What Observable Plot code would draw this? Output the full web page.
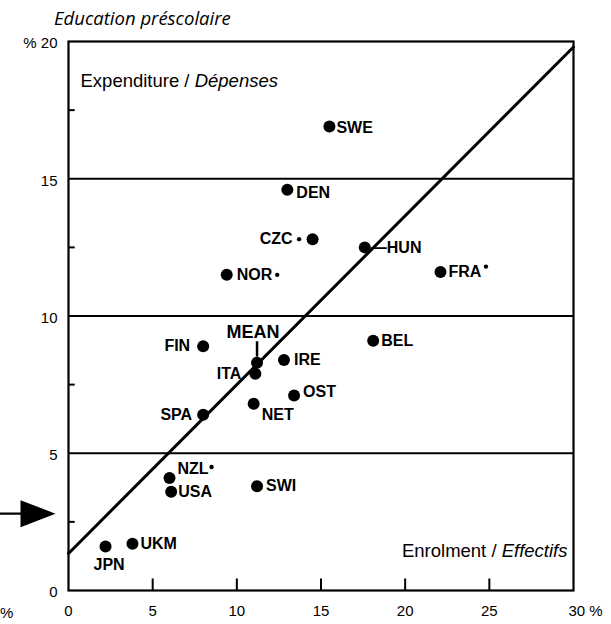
<!DOCTYPE html>
<html><head><meta charset="utf-8">
<script src="https://cdn.jsdelivr.net/npm/d3@7"></script>
<script src="https://cdn.jsdelivr.net/npm/@observablehq/plot@0.6"></script>
<style>
html,body{margin:0;padding:0;background:#fff}
body{width:611px;height:624px;overflow:hidden;position:relative;font-family:"Liberation Sans",Arial,sans-serif;color:#000}
#title{position:absolute;left:54px;top:5px;font-family:"Open Sans";font-style:italic;font-size:18.5px;white-space:nowrap}
#chart{position:absolute;left:0;top:30px}
#pct{position:absolute;left:0;top:604px;font-size:15px}
</style></head><body>
<div id="title">Education préscolaire</div>
<div id="chart"></div>
<div id="pct">%</div>
<script>
// ---- data ----
const countries   = ["SWE","DEN","CZC","HUN","FRA","NOR","BEL","FIN","ITA","IRE","OST","NET","SPA","NZL","USA","SWI","UKM","JPN"];
const enrolment   = [15.5, 13.0, 14.5, 17.6, 22.1, 9.4, 18.1, 8.0, 11.1, 12.8, 13.4, 11.0, 8.0, 6.0, 6.1, 11.2, 3.8, 2.2];
const expenditure = [16.9, 14.6, 12.8, 12.5, 11.6, 11.5, 9.1, 8.9, 7.9, 8.4, 7.1, 6.8, 6.4, 4.1, 3.6, 3.8, 1.7, 1.6];
const meanLabel = "MEAN";
const meanEnrolment = 11.2;
const meanExpenditure = 8.3;
const smallEnrolment   = [13.7, 12.4, 24.8, 8.5];
const smallExpenditure = [12.8, 11.5, 11.8, 4.5];
const trendEnrolment   = [0, 30];
const trendExpenditure = [1.35, 19.8];
const gridY = [5, 10, 15];
const xTickValues = [0, 5, 10, 15, 20, 25];
const xLastTick = [30];
const yTickValues = [0, 5, 10, 15, 20];
const xInnerTicks = [5, 10, 15, 20, 25];
const yInnerTicks = [2.5, 7.5, 12.5, 17.5];
const arrowLevel = [2.8];
const yAxisLabel = "Expenditure / Dépenses";
const xAxisLabel = "Enrolment / Effectifs";

// ---- label placement (style) ----
const place = {
  SWE:["start",7,1], DEN:["start",9,3], CZC:["end",-20,0], HUN:["start",6,0],
  FRA:["start",8,0], NOR:["start",10,0], BEL:["start",8,0], FIN:["end",-13,0],
  ITA:["end",-14,0], IRE:["start",10,0], OST:["start",9,-4], NET:["start",8,11],
  SPA:["end",-11,0], NZL:["start",8,-9], USA:["start",7,0], SWI:["start",9,0],
  UKM:["start",8,0], JPN:["start",-12,18]
};

const points = countries.map((c,i)=>({name:c, x:enrolment[i], y:expenditure[i]}));
const mean = [{name:meanLabel, x:meanEnrolment, y:meanExpenditure}];
const small = smallEnrolment.map((x,i)=>({x, y:smallExpenditure[i]}));
const trend = trendEnrolment.map((x,i)=>({x, y:trendExpenditure[i]}));

const arrowSymbol = {
  draw(ctx){
    ctx.moveTo(-12,-13.5); ctx.lineTo(23,0); ctx.lineTo(-12,13.5); ctx.closePath();
    ctx.moveTo(-50,-1.2); ctx.lineTo(-12,-1.2); ctx.lineTo(-12,1.2); ctx.lineTo(-50,1.2); ctx.closePath();
  }
};

const labelFont = {fontFamily:"Liberation Sans", fontWeight:"bold", fontSize:16, fill:"black"};

const labelMarks = points.map(p=>{
  const [a,dx,dy] = place[p.name];
  return Plot.text([p], {x:"x", y:"y", text: d => d.name === "HUN" ? "\u2014HUN" : d.name,
    textAnchor:a, dx, dy, ...labelFont, style:"letter-spacing:-0.6px"});
});

const chart = Plot.plot({
  width: 611, height: 594,
  marginTop: 11, marginBottom: 34, marginLeft: 68, marginRight: 38,
  x: {domain:[0,30], axis:null},
  y: {domain:[0,20], axis:null},
  style: {fontFamily:"Liberation Sans", fontSize:"15px", color:"black", background:"white", overflow:"visible"},
  marks: [
    Plot.ruleY(gridY, {strokeWidth:2, stroke:"black"}),
    Plot.ruleX(xInnerTicks, {x: d=>d, y1:0, y2:0.42, strokeWidth:2, stroke:"black"}),
    Plot.ruleY(yInnerTicks, {y: d=>d, x1:0, x2:0.4, strokeWidth:2, stroke:"black"}),
    Plot.frame({stroke:"black", strokeWidth:2.2}),
    Plot.line(trend, {x:"x", y:"y", stroke:"black", strokeWidth:3}),
    Plot.text(xTickValues, {x:d=>d, frameAnchor:"bottom", dy:25, text:d=>String(d), fontSize:15, fill:"black"}),
    Plot.text(xLastTick, {x:d=>d, frameAnchor:"bottom", dy:25, dx:-5, textAnchor:"start", text:d=>d+" %", fontSize:15, fill:"black"}),
    Plot.text(yTickValues, {y:d=>d, frameAnchor:"left", dx:-11, dy:2, textAnchor:"end", text:d=> d===20 ? "% 20" : String(d), fontSize:15, fill:"black"}),
    Plot.text([yAxisLabel], {frameAnchor:"top-left", dx:12, dy:32, textAnchor:"start", fontSize:18.5, fill:"black"}),
    Plot.text([xAxisLabel], {frameAnchor:"bottom-right", dx:-6, dy:-34, textAnchor:"end", fontSize:18.5, fill:"black"}),
    Plot.link(mean, {x1:"x", x2:"x", y1:d=>d.y+0.22, y2:d=>d.y+0.78, stroke:"black", strokeWidth:2.5}),
    Plot.dot(small, {x:"x", y:"y", r:2.2, fill:"black"}),
    Plot.dot(points, {x:"x", y:"y", r:6, fill:"black"}),
    Plot.dot(mean, {x:"x", y:"y", r:6, fill:"black"}),
    Plot.text(mean, {x:"x", y:"y", text:"name", dx:-4, dy:-30, textAnchor:"middle", fontFamily:"Liberation Sans", fontWeight:"bold", fontSize:18, fill:"black", style:"letter-spacing:-0.8px;stroke:black;stroke-width:0.7px"}),
    ...labelMarks,
    Plot.dot(arrowLevel, {x:()=>0, y:d=>d, dx:-36, symbol:arrowSymbol, r:10, fill:"black", stroke:"none"})
  ]
});
document.getElementById("chart").appendChild(chart);

function splitItalic(label){
  for (const t of chart.querySelectorAll("text")) {
    if (t.textContent !== label) continue;
    const i = label.indexOf("/");
    while (t.firstChild) t.removeChild(t.firstChild);
    const a = document.createElementNS("http://www.w3.org/2000/svg","tspan");
    a.textContent = label.slice(0,i+1) + "\u00a0";
    const b = document.createElementNS("http://www.w3.org/2000/svg","tspan");
    b.textContent = label.slice(i+1).trim();
    b.setAttribute("style","font-style:italic");
    t.appendChild(a); t.appendChild(b);
  }
}
splitItalic(yAxisLabel); splitItalic(xAxisLabel);
</script>
</body></html>
